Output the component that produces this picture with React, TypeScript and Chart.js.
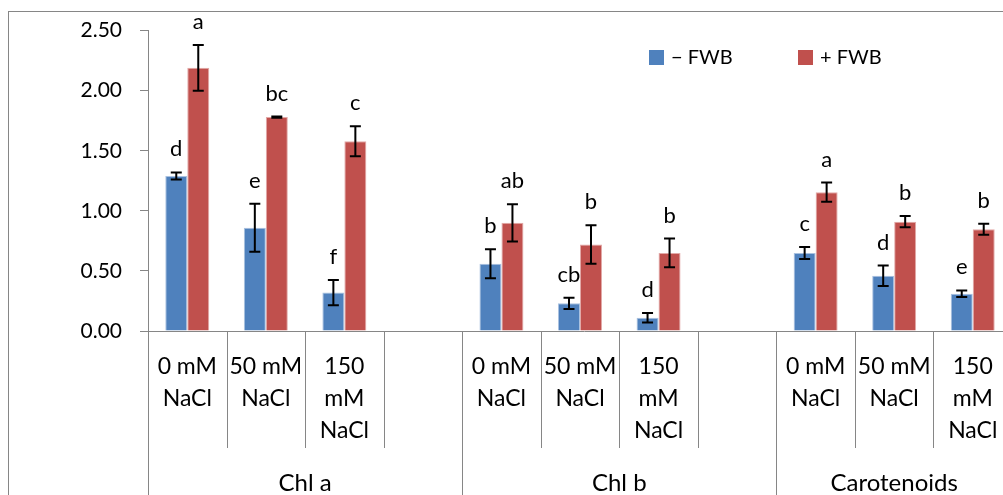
import React, { useEffect, useRef } from "react";
import { Chart, registerables } from "chart.js";

Chart.register(...registerables);

const categoryLines: string[][] = [
  ["0 mM", "NaCl"], ["50 mM", "NaCl"], ["150", "mM", "NaCl"], [],
  ["0 mM", "NaCl"], ["50 mM", "NaCl"], ["150", "mM", "NaCl"], [],
  ["0 mM", "NaCl"], ["50 mM", "NaCl"], ["150", "mM", "NaCl"],
];
const groupNames = ["Chl a", "Chl b", "Carotenoids"];
const groupSpans = [4, 4, 3];

const seriesNames = ["\u2212 FWB", "+ FWB"];
const minusFWB = [1.29, 0.86, 0.32, null, 0.56, 0.23, 0.11, null, 0.65, 0.46, 0.31];
const minusErr = [0.03, 0.2, 0.105, null, 0.12, 0.047, 0.04, null, 0.05, 0.085, 0.028];
const plusFWB = [2.19, 1.78, 1.58, null, 0.9, 0.72, 0.65, null, 1.155, 0.91, 0.847];
const plusErr = [0.19, 0.005, 0.125, null, 0.155, 0.16, 0.12, null, 0.08, 0.047, 0.045];
const minusLetters = ["d", "e", "f", "", "b", "cb", "d", "", "c", "d", "e"];
const plusLetters = ["a", "bc", "c", "", "ab", "b", "b", "", "a", "b", "b"];

const yTicks = [0, 0.5, 1, 1.5, 2, 2.5];

const BLUE = "#4F81BD";
const RED = "#C0504D";
const GRAY = "#868686";
const FONT = 'Lato, "Open Sans", sans-serif';

export default function App() {
  const ref = useRef<HTMLCanvasElement>(null);

  useEffect(() => {
    const canvas = ref.current!;
    const errs = [minusErr, plusErr];
    const letters = [minusLetters, plusLetters];
    const colors = [BLUE, RED];

    const overlay = {
      id: "overlay",
      afterDraw(chart: any) {
        const ctx = chart.ctx as CanvasRenderingContext2D;
        const area = chart.chartArea;
        const x = chart.scales.x;
        const y = chart.scales.y;
        const n = categoryLines.length;
        const cw = x.getPixelForValue(1) - x.getPixelForValue(0);
        const left = x.getPixelForValue(0) - cw / 2;
        ctx.save();

        // outer chart border
        ctx.strokeStyle = GRAY;
        ctx.lineWidth = 1;
        ctx.strokeRect(8.5, 11.5, 3000, 3000);

        // x axis line
        ctx.beginPath();
        ctx.moveTo(area.left, Math.round(area.bottom) + 0.5);
        ctx.lineTo(area.right + 50, Math.round(area.bottom) + 0.5);
        ctx.stroke();

        // boundaries
        const groupBounds = new Set<number>();
        let acc = 0;
        groupBounds.add(0);
        groupSpans.forEach((s) => {
          acc += s;
          groupBounds.add(acc);
        });
        for (let i = 0; i <= n; i++) {
          const bx = Math.round(left + i * cw) + 0.5;
          ctx.beginPath();
          ctx.moveTo(bx, area.bottom);
          ctx.lineTo(bx, groupBounds.has(i) ? 500 : 448);
          ctx.stroke();
        }

        // category labels
        ctx.fillStyle = "#000";
        ctx.font = `23px ${FONT}`;
        ctx.textAlign = "center";
        ctx.textBaseline = "middle";
        categoryLines.forEach((lines, i) => {
          const cx = x.getPixelForValue(i);
          lines.forEach((l, j) => ctx.fillText(l, cx, 367 + j * 32));
        });

        // group labels
        ctx.font = `24px ${FONT}`;
        let start = 0;
        groupNames.forEach((g, gi) => {
          const cx = left + (start + groupSpans[gi] / 2) * cw;
          ctx.fillText(g, cx, 483);
          start += groupSpans[gi];
        });

        // error bars and letters
        [0, 1].forEach((d) => {
          const meta = chart.getDatasetMeta(d);
          const vals = chart.data.datasets[d].data;
          meta.data.forEach((bar: any, i: number) => {
            const v = vals[i];
            if (v == null) return;
            const e = errs[d][i] as number;
            const top = y.getPixelForValue(v + e);
            const bot = y.getPixelForValue(v - e);
            ctx.strokeStyle = "#000";
            ctx.lineWidth = 2;
            ctx.beginPath();
            ctx.moveTo(bar.x, top);
            ctx.lineTo(bar.x, bot);
            ctx.moveTo(bar.x - 5.5, top);
            ctx.lineTo(bar.x + 5.5, top);
            ctx.moveTo(bar.x - 5.5, bot);
            ctx.lineTo(bar.x + 5.5, bot);
            ctx.stroke();
            ctx.fillStyle = "#000";
            ctx.font = `22px ${FONT}`;
            ctx.textAlign = "center";
            ctx.textBaseline = "middle";
            ctx.fillText(letters[d][i], bar.x, top - 23);
          });
        });

        // legend
        const legendX = [649, 798];
        ctx.font = `20px ${FONT}`;
        ctx.textAlign = "left";
        ctx.textBaseline = "middle";
        seriesNames.forEach((s, k) => {
          ctx.fillStyle = colors[k];
          ctx.fillRect(legendX[k], 50, 15, 15);
          ctx.fillStyle = "#000";
          ctx.fillText(s, legendX[k] + 22, 58);
        });

        ctx.restore();
      },
    };

    const chart = new Chart(canvas, {
      type: "bar",
      data: {
        labels: categoryLines.map((l) => l.join(" ")),
        datasets: [
          {
            label: seriesNames[0],
            data: minusFWB,
            backgroundColor: BLUE,
            borderColor: "#A9C1E0",
            borderWidth: 1,
          },
          {
            label: seriesNames[1],
            data: plusFWB,
            backgroundColor: RED,
            borderColor: "#E2A9A7",
            borderWidth: 1,
          },
        ],
      },
      options: {
        responsive: false,
        animation: false,
        devicePixelRatio: 1,
        datasets: { bar: { categoryPercentage: 0.56, barPercentage: 1 } },
        layout: { padding: { left: 0, top: 28, right: 8, bottom: 164 } },
        plugins: { legend: { display: false }, tooltip: { enabled: false } },
        scales: {
          x: { display: false },
          y: {
            min: 0,
            max: 2.5,
            afterFit: (s: any) => {
              s.width = 148;
            },
            afterBuildTicks: (s: any) => {
              s.ticks = yTicks.map((v) => ({ value: v }));
            },
            ticks: {
              color: "#000",
              padding: 18,
              font: { family: FONT, size: 21 },
              callback: (v: any) => Number(v).toFixed(2),
            },
            grid: {
              drawOnChartArea: false,
              drawTicks: true,
              tickLength: 8,
              color: GRAY,
            },
            border: { color: GRAY, width: 1 },
          },
        },
      },
      plugins: [overlay],
    });
    return () => chart.destroy();
  }, []);

  return (
    <div
      style={{
        position: "absolute",
        left: 0,
        top: 0,
        width: 1003,
        height: 495,
        overflow: "hidden",
        background: "#fff",
      }}
    >
      <canvas ref={ref} width={1020} height={495} style={{ display: "block" }} />
    </div>
  );
}
